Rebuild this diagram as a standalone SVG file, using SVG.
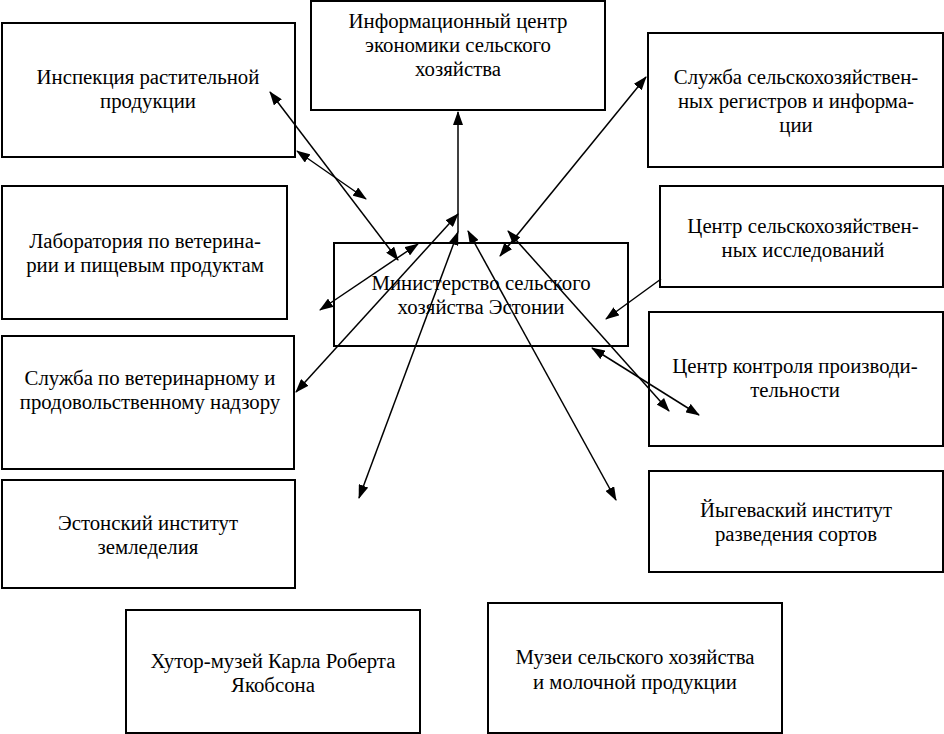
<svg xmlns="http://www.w3.org/2000/svg" width="944" height="734" viewBox="0 0 944 734">
<style>
.box{fill:#fff;stroke:#000;stroke-width:2}
.t{font-family:'Liberation Serif','Times New Roman',serif;font-size:20.8px;fill:#000;text-anchor:middle}
.c{stroke:#000;stroke-width:1.5;fill:none}
</style>
<defs>
<marker id="ah" viewBox="0 0 14 10" refX="13" refY="5" markerWidth="14" markerHeight="10" markerUnits="userSpaceOnUse" orient="auto-start-reverse">
<path d="M0,0 L14,5 L0,10 z" fill="#000"/>
</marker>
</defs>
<rect width="944" height="734" fill="#fff"/>
<g id="n-inspection"><rect class="box" x="2" y="23" width="293" height="134"/><text class="t" x="148" y="84">Инспекция растительной</text><text class="t" x="148" y="108">продукции</text></g>
<g id="n-info"><rect class="box" x="311" y="1" width="294" height="109"/><text class="t" x="458" y="28">Информационный  центр</text><text class="t" x="458" y="52">экономики сельского</text><text class="t" x="458" y="76">хозяйства</text></g>
<g id="n-registers"><rect class="box" x="648" y="33" width="295" height="134"/><text class="t" x="796" y="84">Служба сельскохозяйствен-</text><text class="t" x="796" y="108">ных регистров  и информа-</text><text class="t" x="796" y="132">ции</text></g>
<g id="n-research"><rect class="box" x="660" y="186" width="283" height="101"/><text class="t" x="803" y="233">Центр сельскохозяйствен-</text><text class="t" x="803" y="257">ных исследований</text></g>
<g id="n-control"><rect class="box" x="649" y="312" width="294" height="134"/><text class="t" x="795" y="373">Центр контроля производи-</text><text class="t" x="795" y="397">тельности</text></g>
<g id="n-jogeva"><rect class="box" x="649" y="471" width="294" height="101"/><text class="t" x="796" y="517">Йыгеваский институт</text><text class="t" x="796" y="541">разведения  сортов</text></g>
<g id="n-lab"><rect class="box" x="2" y="186" width="285" height="133"/><text class="t" x="145" y="248">Лаборатория по ветерина-</text><text class="t" x="145" y="272">рии и пищевым продуктам</text></g>
<g id="n-vet"><rect class="box" x="2" y="336" width="292" height="133"/><text class="t" x="150" y="385">Служба по ветеринарному и</text><text class="t" x="150" y="409">продовольственному надзору</text></g>
<g id="n-estonian"><rect class="box" x="2" y="480" width="293" height="108"/><text class="t" x="148" y="530">Эстонский институт</text><text class="t" x="148" y="554">земледелия</text></g>
<g id="n-jakobson"><rect class="box" x="126" y="610" width="294" height="123"/><text class="t" x="273" y="668">Хутор-музей Карла Роберта</text><text class="t" x="273" y="692">Якобсона</text></g>
<g id="n-museum"><rect class="box" x="488" y="603" width="294" height="130"/><text class="t" x="635" y="664">Музеи  сельского хозяйства</text><text class="t" x="635" y="689">и молочной продукции</text></g>
<g id="n-ministry"><rect class="box" x="334" y="243" width="294" height="103"/><text class="t" x="481" y="290">Министерство сельского</text><text class="t" x="481" y="314">хозяйства Эстонии</text></g>
<g id="connectors">
<line class="c" x1="458" y1="232" x2="458" y2="112" marker-end="url(#ah)"/>
<line class="c" x1="270" y1="92" x2="398" y2="260" marker-start="url(#ah)" marker-end="url(#ah)"/>
<line class="c" x1="297" y1="151" x2="366" y2="199" marker-start="url(#ah)" marker-end="url(#ah)"/>
<line class="c" x1="320" y1="310" x2="418" y2="244" marker-start="url(#ah)" marker-end="url(#ah)"/>
<line class="c" x1="296" y1="392" x2="458" y2="214" marker-start="url(#ah)" marker-end="url(#ah)"/>
<line class="c" x1="359" y1="498" x2="458" y2="232" marker-start="url(#ah)" marker-end="url(#ah)"/>
<line class="c" x1="468" y1="231" x2="616" y2="500" marker-start="url(#ah)" marker-end="url(#ah)"/>
<line class="c" x1="646" y1="77" x2="500" y2="256" marker-start="url(#ah)" marker-end="url(#ah)"/>
<line class="c" x1="508" y1="231" x2="669" y2="411" marker-start="url(#ah)" marker-end="url(#ah)"/>
<line class="c" x1="592" y1="348" x2="699" y2="415" marker-start="url(#ah)" marker-end="url(#ah)"/>
<line class="c" x1="661" y1="279" x2="606" y2="319" marker-end="url(#ah)"/>
</g>
</svg>
